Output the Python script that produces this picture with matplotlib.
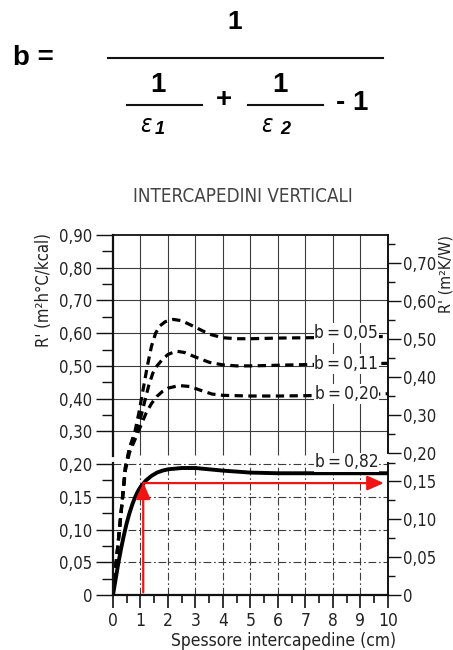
import numpy as np
import matplotlib
matplotlib.use('Agg')
import matplotlib.pyplot as plt
from matplotlib import font_manager as fm
from matplotlib.lines import Line2D

# ---------------- data ----------------
KCAL_TO_W = 1.163  # R[m2 h C / kcal] / 1.163 = R[m2 K / W]

x_b005 = [0, 0.2, 0.45, 0.6, 0.8, 0.95, 1.1, 1.25, 1.4, 1.55, 1.7, 1.9, 2.2, 2.5, 3.0, 3.5, 4.0, 4.5, 5, 6, 7, 8, 9, 10]
R_b005 = [0, 0.085, 0.195, 0.25, 0.30, 0.36, 0.43, 0.50, 0.56, 0.60, 0.622, 0.635, 0.642, 0.638, 0.618, 0.597, 0.586, 0.583, 0.583, 0.585, 0.586, 0.587, 0.588, 0.59]

x_b011 = [0, 0.2, 0.45, 0.6, 0.8, 1.0, 1.15, 1.3, 1.45, 1.6, 1.8, 2.0, 2.3, 2.6, 3.0, 3.5, 4.0, 4.5, 5, 6, 7, 8, 9, 10]
R_b011 = [0, 0.085, 0.195, 0.245, 0.29, 0.34, 0.39, 0.44, 0.478, 0.50, 0.52, 0.535, 0.545, 0.541, 0.527, 0.511, 0.503, 0.50, 0.50, 0.502, 0.504, 0.505, 0.506, 0.508]

x_b020 = [0, 0.2, 0.45, 0.6, 0.8, 1.0, 1.2, 1.4, 1.6, 1.8, 2.0, 2.4, 2.8, 3.2, 3.6, 4.0, 5, 6, 7, 8, 9, 10]
R_b020 = [0, 0.085, 0.19, 0.235, 0.275, 0.315, 0.355, 0.385, 0.407, 0.422, 0.432, 0.44, 0.437, 0.425, 0.414, 0.41, 0.408, 0.408, 0.409, 0.41, 0.412, 0.415]

x_b082 = [0, 0.1, 0.2, 0.3, 0.4, 0.5, 0.6, 0.7, 0.8, 0.9, 1.0, 1.2, 1.4, 1.6, 1.8, 2.0, 2.5, 3.0, 3.5, 4.0, 5, 6, 7, 8, 9, 10]
R_b082 = [0, 0.025, 0.05, 0.072, 0.092, 0.11, 0.125, 0.138, 0.149, 0.158, 0.165, 0.175, 0.182, 0.187, 0.19, 0.192, 0.194, 0.194, 0.192, 0.19, 0.187, 0.186, 0.186, 0.186, 0.186, 0.186]

b_labels = ['b\u2009=\u20090,05', 'b\u2009=\u20090,11', 'b\u2009=\u20090,20', 'b\u2009=\u20090,82']
b_label_levels = [0.60, 0.505, 0.415, 0.205]

arrow_x = [1.1, 1.1, 9.85]
arrow_y = [0.004, 0.172, 0.171]

x_ticks = [0, 1, 2, 3, 4, 5, 6, 7, 8, 9, 10]
x_minor = [0.5, 1.5, 2.5, 3.5, 4.5, 5.5, 6.5, 7.5, 8.5, 9.5]

left_major = [0, 0.05, 0.10, 0.15, 0.20, 0.30, 0.40, 0.50, 0.60, 0.70, 0.80, 0.90]
left_labels = ['0', '0,05', '0,10', '0,15', '0,20', '0,30', '0,40', '0,50', '0,60', '0,70', '0,80', '0,90']
left_minor = [0.025, 0.075, 0.125, 0.175, 0.35, 0.45, 0.55, 0.65, 0.75, 0.85]

right_major = [0, 0.05, 0.10, 0.15, 0.20, 0.30, 0.40, 0.50, 0.60, 0.70]
right_labels = ['0', '0,05', '0,10', '0,15', '0,20', '0,30', '0,40', '0,50', '0,60', '0,70']
right_minor = [0.025, 0.075, 0.125, 0.175, 0.25, 0.35, 0.45, 0.55, 0.65, 0.75]

title_text = 'INTERCAPEDINI VERTICALI'
xlabel_text = 'Spessore intercapedine (cm)'
ylabel_left = "R' (m²h°C/kcal)"
ylabel_right = "R' (m²K/W)"

# ---------------- fonts ----------------
def pick_condensed():
    cands = [('Liberation Sans Narrow', 'normal'), ('DejaVu Sans', 'condensed')]
    for fam, st in cands:
        try:
            p = fm.findfont(fm.FontProperties(family=fam, stretch=st), fallback_to_default=False)
            if st == 'condensed' and 'ondensed' not in p:
                continue
            if fam == 'Liberation Sans Narrow' and 'Narrow' not in p:
                continue
            return fam, st
        except Exception:
            pass
    return 'Roboto', 'normal'

COND_FAM, COND_STRETCH = pick_condensed()
plt.rcParams['font.family'] = [COND_FAM, 'DejaVu Sans']
plt.rcParams['font.stretch'] = COND_STRETCH
TXT = '#222222'

# ---------------- broken scale ----------------
def fwd(v):
    v = np.asarray(v, dtype=float)
    return np.where(v <= 0.2, v / 0.05, 4.0 + (v - 0.2) / 0.1)

def inv(u):
    u = np.asarray(u, dtype=float)
    return np.where(u <= 4.0, u * 0.05, 0.2 + (u - 4.0) * 0.1)

def fwd_w(w):
    return fwd(np.asarray(w, dtype=float) * KCAL_TO_W)

def inv_w(u):
    return inv(u) / KCAL_TO_W

fig = plt.figure(figsize=(4.53, 6.5), dpi=100)
ax = fig.add_axes([0.2494, 0.0846, 0.6071, 0.5539])
ax.set_yscale('function', functions=(fwd, inv))
ax.set_xlim(0, 10)
ax.set_ylim(0, 0.90)

ax2 = ax.twinx()
ax2.set_yscale('function', functions=(fwd_w, inv_w))
ax2.set_ylim(0, 0.90 / KCAL_TO_W)

# grid
GRID = '#3c3c3c'
upper_h = [v for v in left_major if 0.3 <= v < 0.9]
lower_h = [v for v in left_major if 0 < v <= 0.2]
inner_x = x_ticks[1:-1]
dd = (0, (7, 2.5, 1.5, 2.5))
ax.hlines(upper_h, 0, 10, colors=GRID, lw=0.8, zorder=1)
ax.hlines(lower_h, 0, 10, colors=GRID, lw=0.8, linestyles=[dd], zorder=1)
ax.vlines(inner_x, 0.228, 0.90, colors=GRID, lw=0.8, zorder=1)
ax.vlines(inner_x, 0, 0.203, colors=GRID, lw=0.8, linestyles=[dd], zorder=1)

# curves
dash_kw = dict(color='black', lw=2.3, dashes=(2.6, 1.7), zorder=3, solid_capstyle='butt')
ax.plot(x_b005, R_b005, **dash_kw)
ax.plot(x_b011, R_b011, **dash_kw)
ax.plot(x_b020, R_b020, **dash_kw)
ax.plot(x_b082, R_b082, color='black', lw=2.8, zorder=3, solid_joinstyle='round')

for lab, lev in zip(b_labels, b_label_levels):
    ax.text(9.65, lev, lab, ha='right', va='center', fontsize=12.5, color=TXT, zorder=4,
            bbox=dict(facecolor='white', edgecolor='none', pad=0.6))

# red arrows
RED = '#f01414'
ap = dict(arrowstyle='-|>,head_length=0.5,head_width=0.22', color=RED, lw=1.6,
          shrinkA=0, shrinkB=0, mutation_scale=20)
ax.annotate('', xy=(arrow_x[1], arrow_y[1]), xytext=(arrow_x[0], arrow_y[0]), arrowprops=ap, zorder=5)
ax.annotate('', xy=(arrow_x[2], arrow_y[2]), xytext=(arrow_x[1], arrow_y[2]), arrowprops=ap, zorder=5)

# spines with breaks
SP = '#111111'
for a in (ax, ax2):
    for s in a.spines.values():
        s.set_color(SP)
ax.spines['left'].set_linewidth(1.6)
ax.spines['left'].set_bounds(0.226, 0.90)
ax.spines['right'].set_linewidth(1.4)
ax.spines['right'].set_bounds(0, 0.2035)
ax.spines['bottom'].set_linewidth(1.6)
ax.spines['top'].set_linewidth(1.3)
ax2.spines['top'].set_visible(False)
ax2.spines['bottom'].set_visible(False)
ax2.spines['left'].set_visible(True)
ax2.spines['left'].set_linewidth(1.6)
ax2.spines['left'].set_bounds(0, 0.2025 / KCAL_TO_W)
ax2.spines['right'].set_linewidth(1.4)
ax2.spines['right'].set_bounds(0.20, 0.90 / KCAL_TO_W)

# ticks
ax.set_xticks(x_ticks)
ax.set_xticks(x_minor, minor=True)
ax.set_xticklabels([str(t) for t in x_ticks])
ax.set_yticks(left_major)
ax.set_yticklabels(left_labels)
ax.set_yticks(left_minor, minor=True)
ax.tick_params(axis='x', which='major', direction='out', length=9, width=1.2, pad=3, labelsize=12.5, colors=SP, labelcolor=TXT)
ax.tick_params(axis='x', which='minor', direction='out', length=5.5, width=1.2, colors=SP)
ax.tick_params(axis='y', which='major', direction='out', length=12, width=1.0, pad=3, labelsize=12, colors=SP, labelcolor=TXT)
ax.tick_params(axis='y', which='minor', direction='out', length=8, width=1.0, colors=SP)

ax2.set_yticks(right_major)
ax2.set_yticklabels(right_labels)
ax2.set_yticks(right_minor, minor=True)
ax2.tick_params(axis='y', which='major', direction='out', length=9, width=1.0, pad=2, labelsize=12, colors=SP, labelcolor=TXT)
ax2.tick_params(axis='y', which='minor', direction='out', length=5, width=1.0, colors=SP)

# axis titles
fig.text(0.627, 0.0145, xlabel_text, ha='center', va='center', fontsize=12.5, color=TXT)
fig.text(0.097, 0.5538, ylabel_left, ha='center', va='center', rotation=90, fontsize=12, color=TXT)
fig.text(0.984, 0.5785, ylabel_right, ha='center', va='center', rotation=90, fontsize=11.5, color=TXT)
fig.text(0.5364, 0.697, title_text, ha='center', va='center', fontsize=13.5, color='#444444')

# ---------------- formula ----------------
BF = ['Liberation Sans', 'DejaVu Sans']
fig.text(13 / 453, 1 - 65 / 650, 'b =', ha='left', va='baseline', fontsize=20, fontweight='bold', family=BF)
fig.add_artist(Line2D([108 / 453, 383 / 453], [1 - 58 / 650, 1 - 58 / 650], lw=1.5, color='#111111'))
fig.text(235 / 453, 1 - 29 / 650, '1', ha='center', va='baseline', fontsize=19, fontweight='bold', family=BF)
fig.text(158 / 453, 1 - 92 / 650, '1', ha='center', va='baseline', fontsize=20, fontweight='bold', family=BF)
fig.text(280 / 453, 1 - 92 / 650, '1', ha='center', va='baseline', fontsize=20, fontweight='bold', family=BF)
fig.add_artist(Line2D([127 / 453, 202 / 453], [1 - 105 / 650, 1 - 105 / 650], lw=1.5, color='#111111'))
fig.add_artist(Line2D([248 / 453, 323 / 453], [1 - 105 / 650, 1 - 105 / 650], lw=1.5, color='#111111'))
fig.text(224 / 453, 1 - 100 / 650, '+', ha='center', va='center', fontsize=20, fontweight='bold', family=BF)
fig.text(352 / 453, 1 - 110 / 650, '- 1', ha='center', va='baseline', fontsize=20, fontweight='bold', family=BF)
fig.text(146 / 453, 1 - 125 / 650, r'$\varepsilon$', ha='center', va='center', fontsize=17)
fig.text(160 / 453, 1 - 129 / 650, '1', ha='center', va='center', fontsize=13, fontweight='bold', fontstyle='italic', family=BF)
fig.text(267 / 453, 1 - 125 / 650, r'$\varepsilon$', ha='center', va='center', fontsize=17)
fig.text(285 / 453, 1 - 129 / 650, '2', ha='center', va='center', fontsize=13, fontweight='bold', fontstyle='italic', family=BF)

fig.savefig('out.png', dpi=100, facecolor='white')
